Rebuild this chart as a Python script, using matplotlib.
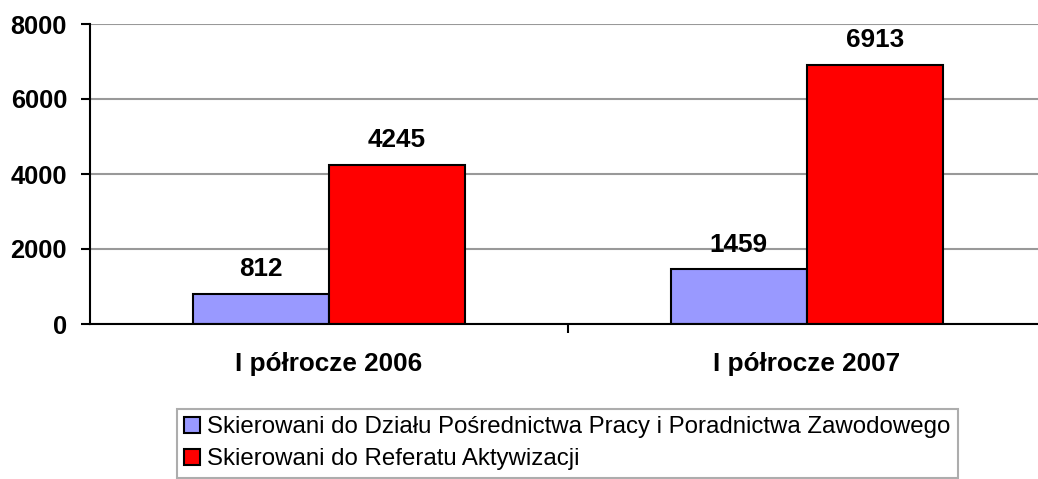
import matplotlib
matplotlib.use("Agg")
import matplotlib.pyplot as plt
import numpy as np

categories = ["I półrocze 2006", "I półrocze 2007"]
series_names = ["Skierowani do Działu Pośrednictwa Pracy i Poradnictwa Zawodowego",
                "Skierowani do Referatu Aktywizacji"]
series_1 = [812, 1459]
series_2 = [4245, 6913]
y_ticks = [0, 2000, 4000, 6000, 8000]
colors = ["#9999FF", "#FF0000"]

plt.rcParams['font.family'] = ['Liberation Sans', 'DejaVu Sans']

W, H = 1038, 479
fig = plt.figure(figsize=(W / 100, H / 100), dpi=100)
ax_l, ax_r, ax_t, ax_b = 90, 1046, 24, 324
ax = fig.add_axes([ax_l / W, 1 - ax_b / H, (ax_r - ax_l) / W, (ax_b - ax_t) / H])

x = np.arange(len(categories))
bw = 0.285
for i, (vals, name, c) in enumerate(zip([series_1, series_2], series_names, colors)):
    pos = x + (i - 0.5) * bw
    ax.bar(pos, vals, bw, color=c, edgecolor="black", linewidth=1.5, label=name, zorder=3)
    for p, v in zip(pos, vals):
        ax.annotate(str(v), (p, v), xytext=(0, 12.5), textcoords="offset points",
                    ha="center", va="baseline", fontsize=18.8, fontweight="bold")

ax.set_xlim(-0.5, 1.5)
ax.set_ylim(0, 8000)
ax.set_yticks(y_ticks)
ax.set_yticklabels([str(t) for t in y_ticks], fontsize=18.3, fontweight="bold")
ax.set_xticks(x)
ax.set_xticklabels(categories, fontsize=18.8, fontweight="bold")
ax.set_xticks([0.5], minor=True)
ax.tick_params(axis="x", which="major", length=0, pad=20)
ax.tick_params(axis="x", which="minor", length=6.5, width=1.5, direction="out")
ax.tick_params(axis="y", length=6.5, width=1.5, direction="out", pad=10)
ax.yaxis.grid(True, color="#999999", linewidth=1.5, zorder=0)
ax.set_axisbelow(True)
for s in ["top", "right"]:
    ax.spines[s].set_visible(False)
for s in ["left", "bottom"]:
    ax.spines[s].set_linewidth(1.5)
    ax.spines[s].set_zorder(4)

leg = fig.legend(loc="upper left", bbox_to_anchor=(177 / W, 1 - 409 / H), fontsize=17.3,
                 frameon=True, fancybox=False, edgecolor="#999999", handlelength=0.65,
                 handleheight=0.65, handletextpad=0.3, borderpad=0.3, labelspacing=0.42,
                 borderaxespad=0)
leg.get_frame().set_linewidth(1.5)

fig.savefig("out.png", dpi=100)
